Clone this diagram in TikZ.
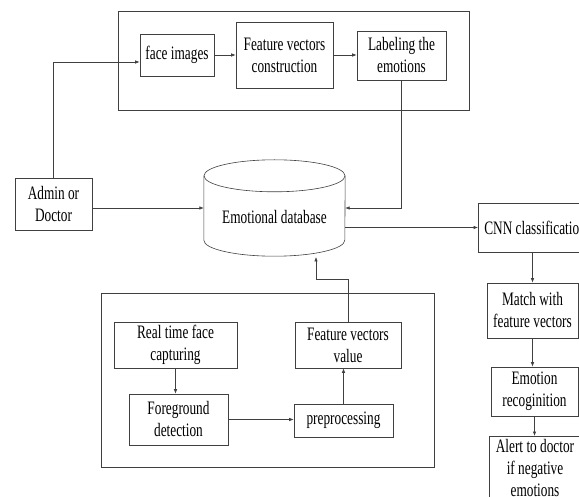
\documentclass[tikz,border=0pt]{standalone}
\usepackage{fontspec}
\setmainfont{Liberation Serif}[FakeStretch=0.7]
\usetikzlibrary{arrows.meta}

\begin{document}
\begin{tikzpicture}[x=1pt, y=-1pt,
		procbox/.style={draw=black!75, line width=0.6pt, align=center, inner sep=1pt, font=\fontsize{19}{22}\selectfont},
		outerframe/.style={draw=black!75, line width=0.6pt},
		conn/.style={draw=black!75, line width=0.6pt, -{Latex[length=4.5pt,width=3.5pt]}}]

	\useasboundingbox (0,0) rectangle (579,497);

	\draw[outerframe] (118,11) rectangle (469,110);
	\draw[outerframe] (101,293) rectangle (434,467);

	\node[procbox, minimum width=74, minimum height=42] (face) at (177,55) {face images};
	\node[procbox, minimum width=97, minimum height=66] (feat) at (284.5,55) {Feature vectors\\construction};
	\node[procbox, minimum width=89, minimum height=49] (labelemo) at (401.5,55.5) {Labeling the\\emotions};
	\node[procbox, minimum width=77, minimum height=52] (admin) at (53.5,204) {Admin or\\Doctor};

	\node[minimum width=141, minimum height=64, inner sep=0pt] (db) at (274.5,208) {};
	\draw[outerframe] (db.north west) -- (db.south west) arc[start angle=180, end angle=360, x radius=70.5pt, y radius=16pt] -- (db.north east);
	\draw[outerframe] (db.north) ellipse[x radius=70.5pt, y radius=16pt];
	\node[font=\fontsize{19}{22}\selectfont] (dbtext) at (274.5,217) {Emotional database};

	\node[procbox, anchor=west, inner xsep=6pt, minimum height=49] (cnn) at (478,227.5) {CNN classification};
	\node[procbox, minimum width=91, minimum height=55] (match) at (532.5,310.5) {Match with\\feature vectors};
	\node[procbox, minimum width=87, minimum height=49] (emo) at (534.5,391.5) {Emotion\\recoginition};
	\node[procbox, anchor=north, minimum width=92, inner ysep=3pt] (alert) at (535,436) {Alert to doctor\\if negative\\emotions};

	\node[procbox, minimum width=123, minimum height=46] (capture) at (175.5,345) {Real time face\\capturing};
	\node[procbox, minimum width=99, minimum height=51] (fore) at (178.5,419.5) {Foreground\\detection};
	\node[procbox, minimum width=99, minimum height=33] (prep) at (343.5,420.5) {preprocessing};
	\node[procbox, minimum width=106, minimum height=46] (fvv) at (348,345) {Feature vectors\\value};
	\coordinate (dbin) at (316,257);

	\draw[conn] (admin.north) |- ([yshift=-7pt]face.west);
	\draw[conn] (face.east) -- (feat.west);
	\draw[conn] (feat.east) -- (feat.east -| labelemo.west);
	\draw[conn] (labelemo.south) |- (db.east);
	\draw[conn] (admin.east |- db.west) -- (db.west);
	\draw[conn] (db.east |- cnn.west) -- (cnn.west);
	\draw[conn] (cnn.south -| match.north) -- (match.north);
	\draw[conn] (match.south) -- (match.south |- emo.north);
	\draw[conn] (emo.south) -- (emo.south |- alert.north);
	\draw[conn] (capture.south) -- (capture.south |- fore.north);
	\draw[conn] (fore.east) -- (fore.east -| prep.west);
	\draw[conn] (prep.north) -- (prep.north |- fvv.south);
	\draw[conn] (fvv.north) -- ++(0,-42) -| (dbin);
\end{tikzpicture}
\end{document}
